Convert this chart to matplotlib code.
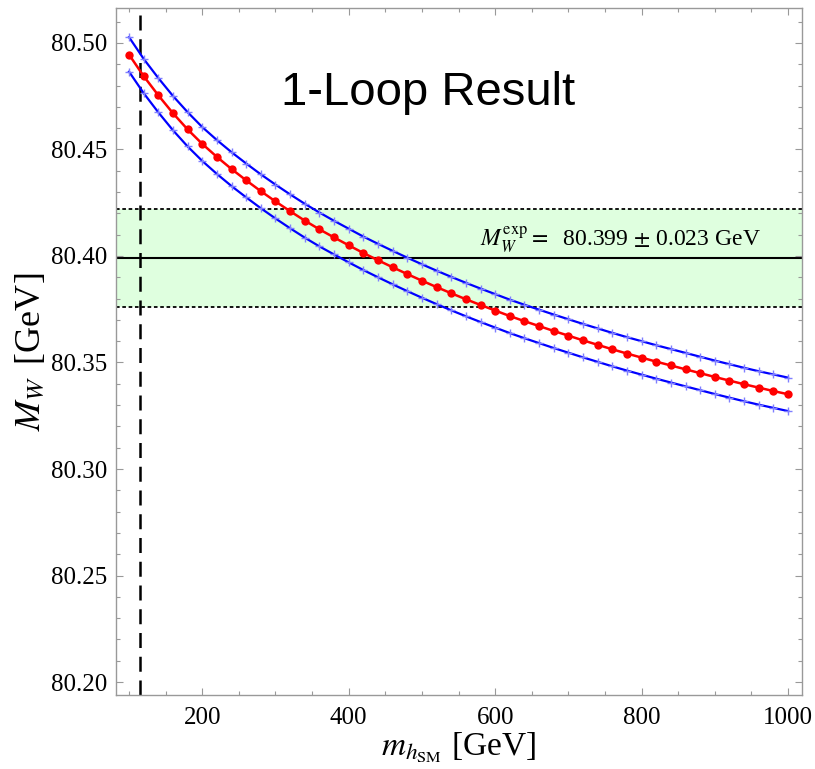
import matplotlib
matplotlib.use("Agg")
import matplotlib.pyplot as plt
from matplotlib.ticker import MultipleLocator

plt.rcParams['mathtext.fontset'] = 'stix'
plt.rcParams['font.family'] = ['Liberation Serif', 'DejaVu Serif']

# Higgs mass grid [GeV]
m_h = [100, 120, 140, 160, 180, 200, 220, 240, 260, 280, 300, 320, 340, 360, 380,
       400, 420, 440, 460, 480, 500, 520, 540, 560, 580, 600, 620, 640, 660, 680,
       700, 720, 740, 760, 780, 800, 820, 840, 860, 880, 900, 920, 940, 960, 980, 1000]

# central 1-loop prediction
mw_central = [80.4945, 80.4844, 80.4754, 80.4670, 80.4594, 80.4526, 80.4465, 80.4408,
              80.4355, 80.4304, 80.4256, 80.4210, 80.4166, 80.4125, 80.4087, 80.4050,
              80.4014, 80.3980, 80.3947, 80.3915, 80.3884, 80.3854, 80.3825, 80.3797,
              80.3770, 80.3744, 80.3718, 80.3694, 80.3671, 80.3648, 80.3626, 80.3604,
              80.3583, 80.3562, 80.3542, 80.3523, 80.3504, 80.3486, 80.3468, 80.3450,
              80.3432, 80.3415, 80.3398, 80.3382, 80.3366, 80.3351]

mw_upper = [80.5027, 80.4925, 80.4835, 80.4751, 80.4675, 80.4605, 80.4544, 80.4487,
            80.4434, 80.4383, 80.4335, 80.4289, 80.4245, 80.4204, 80.4165, 80.4128,
            80.4091, 80.4057, 80.4024, 80.3992, 80.3961, 80.3931, 80.3902, 80.3874,
            80.3847, 80.3821, 80.3795, 80.3771, 80.3748, 80.3725, 80.3703, 80.3681,
            80.3660, 80.3639, 80.3619, 80.3600, 80.3581, 80.3563, 80.3545, 80.3527,
            80.3509, 80.3492, 80.3475, 80.3459, 80.3444, 80.3429]

mw_lower = [80.4865, 80.4764, 80.4674, 80.4590, 80.4514, 80.4446, 80.4385, 80.4328,
            80.4275, 80.4224, 80.4176, 80.4130, 80.4086, 80.4045, 80.4007, 80.3970,
            80.3934, 80.3900, 80.3867, 80.3835, 80.3804, 80.3774, 80.3745, 80.3717,
            80.3690, 80.3664, 80.3638, 80.3614, 80.3591, 80.3568, 80.3546, 80.3524,
            80.3503, 80.3482, 80.3462, 80.3443, 80.3424, 80.3406, 80.3388, 80.3370,
            80.3352, 80.3335, 80.3318, 80.3302, 80.3287, 80.3272]

mw_exp = 80.399
mw_exp_err = 0.023
lep_bound = 114.4

x_ticks = [200, 400, 600, 800, 1000]
y_ticks = [80.20, 80.25, 80.30, 80.35, 80.40, 80.45, 80.50]

fig = plt.figure(figsize=(8.15, 7.69), dpi=100)
ax = fig.add_axes([0.142, 0.0956, 0.8417, 0.894])

ax.set_xlim(81.8, 1018.7)
ax.set_ylim(80.1937, 80.5164)

# experimental band
ax.axhspan(mw_exp - mw_exp_err, mw_exp + mw_exp_err, color='#dfffdf', zorder=0, lw=0)
ax.axhline(mw_exp, color='black', lw=1.5, zorder=1)
for yb in (mw_exp - mw_exp_err, mw_exp + mw_exp_err):
    ax.axhline(yb, color='black', lw=1.3, ls=(0, (2, 1.5)), zorder=1)

# LEP bound
ax.axvline(lep_bound, color='black', lw=1.8, ls=(0, (6, 3.5)), zorder=1)

# curves
for yy in (mw_upper, mw_lower):
    ax.plot(m_h, yy, color='#0000ff', lw=1.6, zorder=3)
    ax.plot(m_h, yy, ls='none', marker='+', ms=5.5, mew=1.0, color='#7f7fff', zorder=4)
ax.plot(m_h, mw_central, color='#ff0000', lw=1.8, marker='o', ms=6, mew=0, zorder=5)

# ticks
ax.set_xticks(x_ticks)
ax.set_yticks(y_ticks)
ax.set_yticklabels([f"{v:.2f}" for v in y_ticks])
ax.xaxis.set_minor_locator(MultipleLocator(50))
ax.yaxis.set_minor_locator(MultipleLocator(0.01))
ax.tick_params(which='both', direction='in', top=True, right=True, color='#999999',
               labelsize=18, width=0.8)
ax.tick_params(which='major', length=5)
ax.tick_params(which='minor', length=3)
ax.tick_params(axis='x', pad=8)
ax.tick_params(axis='y', pad=6)
for sp in ax.spines.values():
    sp.set_color('#999999')
    sp.set_linewidth(1.0)

ax.set_xlabel(r'$m_{h_{\rm SM}}$ [GeV]', fontsize=24, labelpad=1)
ax.set_ylabel(r'$M_W\,$ [GeV]', fontsize=26, labelpad=2)

ax.text(0.455, 0.859, '1-Loop Result', transform=ax.transAxes, ha='center',
        va='baseline', fontsize=34, family='Liberation Sans')
ax.text(579, 80.4044, r'$M_W^{\rm exp} = $  80.399 $\pm$ 0.023 GeV', ha='left',
        va='baseline', fontsize=17)

fig.savefig('out.png', dpi=100)
